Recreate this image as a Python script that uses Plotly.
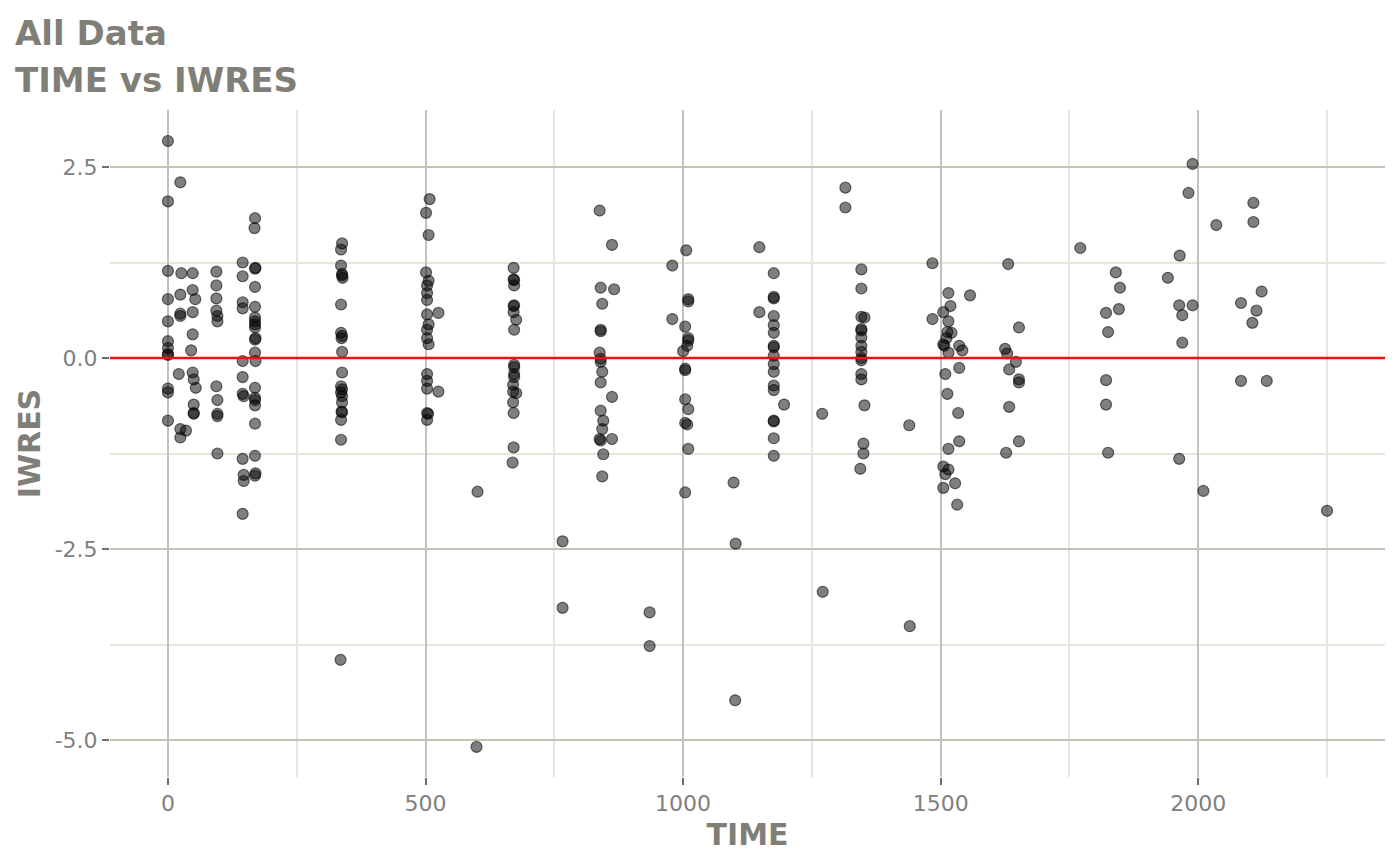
import plotly.graph_objects as go

# TIME vs IWRES values
time = [
    0, 0, 0, 0, 0, 0, 0, 0, 0, 0, 0, 0,
    24, 26, 24, 24, 24, 21, 24, 24, 35,
    48, 48, 53, 48, 48, 45, 48, 50, 54, 50, 50, 50,
    94, 94, 94, 94, 96, 96, 94, 96, 96, 96, 96,
    145, 145, 145, 145, 145, 145, 145, 147, 145, 147, 147, 145,
    169, 168, 170, 169, 169, 169, 169, 169, 169, 169, 170, 169, 169, 170, 169, 169, 169, 169, 169, 169, 170, 169,
    338, 336, 336, 338, 339, 338, 336, 336, 338, 337, 338, 338, 336, 338, 336, 338, 338, 337, 338, 336, 336, 335,
    508, 501, 506, 501, 506, 503, 503, 503, 503, 525, 506, 503, 503, 506, 503, 503, 503, 525, 503, 505, 503,
    671, 671, 672, 672, 672, 671, 671, 676, 672, 672, 672, 672, 672, 670, 670, 676, 670, 671, 671, 669, 601, 599,
    838, 862, 840, 866, 843, 840, 840, 838, 840, 840, 843, 840, 862, 840, 845, 843, 838, 840, 862, 845, 843,
    766, 766, 935, 935,
    1006, 979, 1010, 1010, 979, 1004, 1010, 1010, 1008, 1000, 1004, 1004, 1004, 1010, 1004, 1008, 1010, 1004,
    1102, 1101, 1098,
    1176, 1176, 1176, 1176, 1176, 1176, 1176, 1176, 1176, 1176, 1176, 1176, 1176, 1196, 1176, 1176, 1176, 1176,
    1148, 1148, 1270, 1271,
    1315, 1315,
    1346, 1346, 1346, 1352, 1346, 1346, 1346, 1346, 1346, 1346, 1346, 1346, 1346, 1352, 1350, 1350, 1344,
    1439, 1440,
    1484, 1515, 1557, 1519, 1505, 1484, 1515, 1513, 1521, 1511, 1505, 1507, 1536, 1542, 1515, 1536, 1509, 1513,
    1534, 1536, 1515, 1505, 1515, 1509, 1528, 1505, 1532,
    1631, 1652, 1625, 1629, 1646, 1633, 1652, 1652, 1633, 1652, 1627,
    1771, 1840, 1848, 1846, 1821, 1825, 1821, 1821, 1825,
    1989, 1981, 2107, 2107, 2035, 1964, 1941, 2123, 2083, 1963, 1989, 2113, 1969, 2105, 1969, 2083, 2133, 1963,
    2010, 2250,
]
iwres = [
    2.84, 2.05, 1.14, 0.77, 0.48, 0.22, 0.13, 0.05, 0.04, -0.40, -0.45, -0.82,
    2.30, 1.11, 0.83, 0.58, 0.55, -0.21, -0.93, -1.04, -0.95,
    1.11, 0.89, 0.77, 0.60, 0.31, 0.10, -0.19, -0.28, -0.39, -0.61, -0.73, -0.72,
    1.13, 0.95, 0.78, 0.62, 0.55, 0.48, -0.37, -0.55, -0.73, -0.76, -1.25,
    1.25, 1.07, 0.73, 0.65, -0.04, -0.25, -0.47, -0.50, -1.32, -1.53, -1.61, -2.04,
    1.83, 1.70, 1.18, 1.17, 0.93, 0.67, 0.53, 0.48, 0.44, 0.40, 0.26, 0.24, 0.07, -0.04, -0.39, -0.52, -0.55, -0.62,
    -0.86, -1.28, -1.51, -1.54,
    1.50, 1.42, 1.21, 1.10, 1.05, 1.08, 0.70, 0.33, 0.29, 0.26, 0.08, -0.19, -0.37, -0.41, -0.45, -0.50, -0.58, -0.70,
    -0.71, -0.81, -1.07, -3.95,
    2.08, 1.90, 1.61, 1.12, 1.01, 0.95, 0.85, 0.76, 0.57, 0.59, 0.44, 0.37, 0.26, 0.18, -0.21, -0.30, -0.40, -0.44,
    -0.72, -0.73, -0.81,
    1.18, 1.03, 1.02, 0.95, 0.69, 0.68, 0.60, 0.50, 0.37, -0.09, -0.12, -0.21, -0.25, -0.35, -0.44, -0.46, -0.58,
    -0.72, -1.17, -1.37, -1.75, -5.09,
    1.93, 1.48, 0.92, 0.90, 0.71, 0.37, 0.35, 0.07, -0.01, -0.05, -0.18, -0.32, -0.51, -0.69, -0.82, -0.93, -1.06,
    -1.08, -1.06, -1.26, -1.55,
    -2.40, -3.27, -3.33, -3.77,
    1.41, 1.21, 0.77, 0.74, 0.51, 0.41, 0.26, 0.23, 0.16, 0.09, -0.14, -0.16, -0.54, -0.67, -0.85, -0.87, -1.19, -1.76,
    -2.43, -4.48, -1.63,
    1.11, 0.80, 0.78, 0.55, 0.43, 0.33, 0.16, 0.14, 0.03, -0.08, -0.18, -0.36, -0.42, -0.61, -0.82, -0.83, -1.05, -1.28,
    1.45, 0.60, -0.73, -3.06,
    2.23, 1.97,
    1.16, 0.91, 0.54, 0.53, 0.38, 0.36, 0.27, 0.16, 0.08, 0.00, -0.03, -0.21, -0.28, -0.62, -1.12, -1.25, -1.45,
    -0.88, -3.51,
    1.24, 0.85, 0.82, 0.68, 0.60, 0.51, 0.48, 0.34, 0.33, 0.26, 0.18, 0.16, 0.16, 0.10, 0.07, -0.13, -0.21, -0.47,
    -0.72, -1.09, -1.19, -1.42, -1.46, -1.52, -1.64, -1.70, -1.92,
    1.23, 0.40, 0.12, 0.06, -0.05, -0.15, -0.28, -0.32, -0.64, -1.09, -1.24,
    1.44, 1.12, 0.92, 0.64, 0.59, 0.34, -0.29, -0.61, -1.24,
    2.54, 2.16, 2.03, 1.78, 1.74, 1.34, 1.05, 0.87, 0.72, 0.69, 0.69, 0.62, 0.56, 0.46, 0.20, -0.30, -0.30, -1.32,
    -1.74, -2.00,
]

x_ticks = [0, 500, 1000, 1500, 2000]
y_ticks = [-5.0, -2.5, 0.0, 2.5]
y_tick_text = ['-5.0', '-2.5', '0.0', '2.5']
title_lines = ['All Data', 'TIME vs IWRES']

title_color = '#7f7f77'
tick_color = '#808080'
major_grid = '#c2c2b6'
minor_grid = '#e6e6da'

fig = go.Figure()

fig.add_trace(go.Scatter(
    x=time, y=iwres,
    mode='markers',
    marker=dict(size=11, color='rgba(0,0,0,0.5)',
                line=dict(color='rgba(0,0,0,0.55)', width=1.2)),
    showlegend=False,
))

# reference line at zero
fig.add_hline(y=0, line=dict(color='#ee1111', width=2.5), layer='above')

# two-line title, one annotation per line (centres at y=33 and y=80 px)
for line, py in zip(title_lines, [33, 80]):
    fig.add_annotation(
        text='<b>' + line + '</b>',
        xref='paper', yref='paper',
        x=(13 - 110) / 1275, y=1 + (110 - py) / 667,
        xanchor='left', yanchor='middle', align='left',
        showarrow=False,
        font=dict(size=34, color=title_color),
    )

# the page body adds an 8px offset, so margins are shifted to compensate
fig.update_layout(
    width=1400, height=865,
    plot_bgcolor='white', paper_bgcolor='white',
    font=dict(family='DejaVu Sans', color=tick_color),
    margin=dict(l=102, r=23, t=102, b=96),
    xaxis=dict(
        range=[-112.5, 2362.5],
        tickvals=x_ticks,
        ticks='outside', ticklen=7, tickwidth=2, tickcolor='#6e6e6e',
        tickfont=dict(size=22, color=tick_color),
        showgrid=True, gridcolor=major_grid, gridwidth=2,
        minor=dict(dtick=250, tick0=0, showgrid=True, gridcolor=minor_grid, gridwidth=2),
        zeroline=False, showline=False, automargin=False,
        title=dict(text='<b>TIME</b>', font=dict(size=30, color=title_color), standoff=8),
    ),
    yaxis=dict(
        range=[-5.484, 3.246],
        tickvals=y_ticks, ticktext=y_tick_text,
        ticks='outside', ticklen=7, tickwidth=2, tickcolor='#6e6e6e',
        tickfont=dict(size=22, color=tick_color),
        showgrid=True, gridcolor=major_grid, gridwidth=2,
        minor=dict(dtick=1.25, tick0=0, showgrid=True, gridcolor=minor_grid, gridwidth=2),
        zeroline=False, showline=False, automargin=False,
        title=dict(text='<b>IWRES</b>', font=dict(size=30, color=title_color), standoff=5),
    ),
)

fig.write_html("out.html")
